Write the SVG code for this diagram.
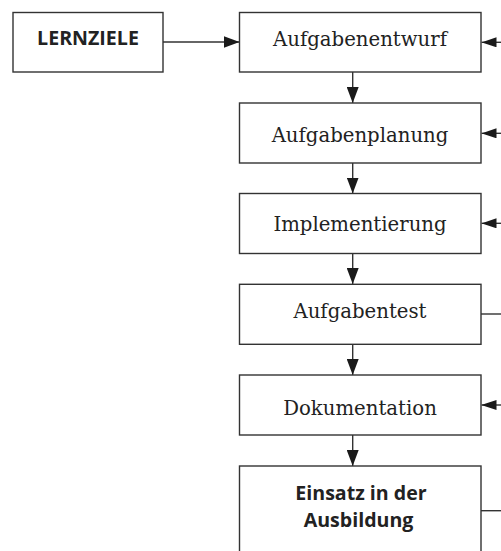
<svg xmlns="http://www.w3.org/2000/svg" width="501" height="551" viewBox="0 0 501 551">
<style>
.box{fill:#fff;stroke:#333;stroke-width:1.4}
.ser{font-family:"DejaVu Serif","Liberation Serif",serif;font-size:19.7px;fill:#222;text-anchor:middle}
.bold{font-family:"Open Sans","Liberation Sans",Arial,sans-serif;font-weight:bold;font-size:19.6px;fill:#222;text-anchor:middle}
.con{fill:none;stroke:#333;stroke-width:1.4}
</style>
<defs>
<marker id="ah" markerUnits="userSpaceOnUse" markerWidth="16" markerHeight="12" refX="16" refY="6" orient="auto">
<path d="M0,0 L16,6 L0,12 z" fill="#1a1a1a"/>
</marker>
<marker id="ahs" markerUnits="userSpaceOnUse" markerWidth="15" markerHeight="10" refX="15" refY="5" orient="auto">
<path d="M0,0 L15,5 L0,10 z" fill="#1a1a1a"/>
</marker>
</defs>
<rect width="501" height="551" fill="#fff"/>
<g id="connectors">
<line class="con" x1="163" y1="42" x2="239.5" y2="42" marker-end="url(#ah)"/>
<line class="con" x1="352.7" y1="72" x2="352.7" y2="103" marker-end="url(#ah)"/>
<line class="con" x1="352.7" y1="163" x2="352.7" y2="193.5" marker-end="url(#ah)"/>
<line class="con" x1="352.7" y1="253.5" x2="352.7" y2="284" marker-end="url(#ah)"/>
<line class="con" x1="352.7" y1="344.5" x2="352.7" y2="375" marker-end="url(#ah)"/>
<line class="con" x1="352.7" y1="435" x2="352.7" y2="466" marker-end="url(#ah)"/>
<line class="con" x1="502" y1="42.3" x2="481.5" y2="42.3" marker-end="url(#ahs)"/>
<line class="con" x1="502" y1="133.3" x2="481.5" y2="133.3" marker-end="url(#ahs)"/>
<line class="con" x1="502" y1="223.3" x2="481.5" y2="223.3" marker-end="url(#ahs)"/>
<line class="con" x1="481" y1="314" x2="502" y2="314"/>
<line class="con" x1="502" y1="405" x2="481.5" y2="405" marker-end="url(#ahs)"/>
<line class="con" x1="481" y1="510.7" x2="502" y2="510.7"/>
</g>
<g id="lernziele">
<rect class="box" x="13" y="12.5" width="150" height="59.5"/>
<text class="bold" x="88" y="44.5">LERNZIELE</text>
</g>
<g id="aufgabenentwurf">
<rect class="box" x="239.5" y="12.5" width="241.5" height="59.5"/>
<text class="ser" x="360" y="45.7">Aufgabenentwurf</text>
</g>
<g id="aufgabenplanung">
<rect class="box" x="239.5" y="103" width="241.5" height="60"/>
<text class="ser" x="360" y="141.7">Aufgabenplanung</text>
</g>
<g id="implementierung">
<rect class="box" x="239.5" y="193.5" width="241.5" height="60"/>
<text class="ser" x="360" y="230.7">Implementierung</text>
</g>
<g id="aufgabentest">
<rect class="box" x="239.5" y="284.3" width="241.5" height="60"/>
<text class="ser" x="360" y="318.3">Aufgabentest</text>
</g>
<g id="dokumentation">
<rect class="box" x="239.5" y="375" width="241.5" height="60"/>
<text class="ser" x="360" y="415">Dokumentation</text>
</g>
<g id="einsatz">
<rect class="box" x="239.5" y="466" width="241.5" height="100"/>
<text class="bold" x="361" y="500.3">Einsatz in der</text>
<text class="bold" x="358.5" y="527.2">Ausbildung</text>
</g>
</svg>
